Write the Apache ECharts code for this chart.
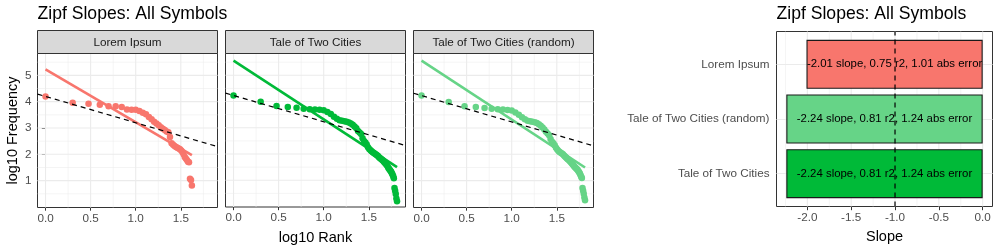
<!DOCTYPE html>
<html>
<head>
<meta charset="utf-8">
<script src="https://cdn.jsdelivr.net/npm/echarts@6/dist/echarts.min.js"></script>
<style>
  html, body { margin: 0; padding: 0; background: #fff; }
  #chart { width: 1000px; height: 250px; }
</style>
</head>
<body>
<div id="chart"></div>
<script>
// facets (left chart)
var facetNames = ['Lorem Ipsum', 'Tale of Two Cities', 'Tale of Two Cities (random)'];
var facetColors = ['#F8766D', '#00BA38', '#66D487'];

// log10 of rank 1..65
var logRank = [0, 0.301, 0.477, 0.602, 0.699, 0.778, 0.845, 0.903, 0.954, 1.000,
  1.041, 1.079, 1.114, 1.146, 1.176, 1.204, 1.230, 1.255, 1.279, 1.301,
  1.322, 1.342, 1.362, 1.380, 1.398, 1.415, 1.431, 1.447, 1.462, 1.477,
  1.491, 1.505, 1.519, 1.531, 1.544, 1.556, 1.568, 1.580, 1.591, 1.602,
  1.613, 1.623, 1.633, 1.643, 1.653, 1.663, 1.672, 1.681, 1.690, 1.699,
  1.708, 1.716, 1.724, 1.732, 1.740, 1.748, 1.756, 1.763, 1.771, 1.778,
  1.785, 1.792, 1.799, 1.806, 1.813];

// log10 frequency per rank
var loremFreq = [4.20, 3.96, 3.92, 3.88, 3.83, 3.83, 3.80, 3.70, 3.69, 3.69,
  3.65, 3.58, 3.52, 3.42, 3.33, 3.24, 3.17, 3.10, 3.03, 2.97,
  2.92, 2.87, 2.84, 2.66, 2.42, 2.36, 2.32, 2.28, 2.25, 2.22,
  2.19, 2.15, 2.08, 2.00, 1.90, 1.84, 1.78, 1.72, 1.70, 1.07,
  1.02, 0.82];

var taleFreq = [4.23, 3.99, 3.83, 3.79, 3.76, 3.72, 3.71, 3.70, 3.69, 3.67,
  3.60, 3.52, 3.42, 3.34, 3.29, 3.27, 3.25, 3.23, 3.20, 3.16,
  3.11, 3.05, 2.98, 2.88, 2.82, 2.76, 2.60, 2.50, 2.44, 2.36,
  2.26, 2.19, 2.14, 2.10, 2.07, 2.04, 2.01, 1.98, 1.95, 1.92,
  1.88, 1.85, 1.82, 1.79, 1.76, 1.72, 1.69, 1.66, 1.62, 1.58,
  1.53, 1.48, 1.44, 1.40, 1.36, 1.32, 1.27, 1.22, 1.15, 1.08,
  0.70, 0.60, 0.48, 0.30, 0.20];

var taleRandomFreq = [4.23, 3.99, 3.83, 3.80, 3.76, 3.73, 3.71, 3.70, 3.68, 3.66,
  3.59, 3.50, 3.41, 3.33, 3.28, 3.26, 3.24, 3.22, 3.19, 3.14,
  3.09, 3.02, 2.94, 2.86, 2.79, 2.72, 2.58, 2.48, 2.42, 2.34,
  2.25, 2.18, 2.13, 2.09, 2.06, 2.03, 2.00, 1.96, 1.92, 1.88,
  1.84, 1.81, 1.78, 1.75, 1.71, 1.67, 1.63, 1.60, 1.56, 1.52,
  1.49, 1.46, 1.43, 1.40, 1.36, 1.32, 1.27, 1.21, 1.15, 1.10,
  0.72, 0.62, 0.50, 0.36, 0.26];

// fitted lines and the slope -1 reference line
var fitIntercept = [5.23, 5.56, 5.56];
var fitSlope = [-2.01, -2.24, -2.24];
var refIntercept = [4.20, 4.23, 4.23];
var zipfSlope = -1;

// ticks / gridlines
var rankTicks = [0, 0.5, 1, 1.5];
var rankMinor = [0.25, 0.75, 1.25, 1.75];
var freqTicks = [1, 2, 3, 4, 5];
var freqMinor = [0.5, 1.5, 2.5, 3.5, 4.5, 5.5];

// right chart
var slopeCats = ['Tale of Two Cities', 'Tale of Two Cities (random)', 'Lorem Ipsum'];
var slopeVals = [-2.24, -2.24, -2.01];
var r2Vals = [0.81, 0.81, 0.75];
var absErrVals = [1.24, 1.24, 1.01];
var slopeColors = ['#00BA38', '#66D487', '#F8766D'];
var slopeTicks = [-2, -1.5, -1, -0.5, 0];
var slopeMinor = [-2.25, -1.75, -1.25, -0.75, -0.25];

var FONT = '"Liberation Sans", Arial, Helvetica, sans-serif';
var rankMin = -0.089, rankMax = 1.907;
var freqMin = -0.02, freqMax = 5.83;
var slopeMin = -2.352, slopeMax = 0.112;

var panelLeft = [37.5, 225.5, 413.5];
var panelTop = 53.5, panelW = 180, panelH = 154;

var chart = echarts.init(document.getElementById('chart'));

// gridlines drawn through the axis scales
function gridlines(idx, xMaj, xMin, yMaj, yMin) {
  var data = [];
  xMin.forEach(function (v) { data.push([0, v, 0.55]); });
  yMin.forEach(function (v) { data.push([1, v, 0.55]); });
  xMaj.forEach(function (v) { data.push([0, v, 1.1]); });
  yMaj.forEach(function (v) { data.push([1, v, 1.1]); });
  return {
    type: 'custom', xAxisIndex: idx, yAxisIndex: idx, silent: true, z: 1,
    data: data,
    renderItem: function (params, api) {
      var cs = params.coordSys;
      var kind = api.value(0), v = api.value(1), w = api.value(2);
      var shape;
      if (kind === 0) {
        var px = api.coord([v, 0])[0];
        shape = { x1: px, y1: cs.y, x2: px, y2: cs.y + cs.height };
      } else {
        var py = api.coord([0, v])[1];
        shape = { x1: cs.x, y1: py, x2: cs.x + cs.width, y2: py };
      }
      return { type: 'line', shape: shape, style: { stroke: '#EBEBEB', lineWidth: w } };
    }
  };
}

var grids = [], xAxes = [], yAxes = [], series = [], graphics = [];
var freqs = [loremFreq, taleFreq, taleRandomFreq];

facetNames.forEach(function (name, i) {
  grids.push({ left: panelLeft[i], top: panelTop, width: panelW, height: panelH,
    show: true, borderColor: '#333', borderWidth: 1, backgroundColor: '#fff' });
  xAxes.push({
    gridIndex: i, type: 'value', min: rankMin, max: rankMax,
    splitLine: { show: false }, axisLine: { show: false },
    axisTick: { show: true, customValues: rankTicks, length: 3.7, lineStyle: { color: '#333' } },
    axisLabel: { customValues: rankTicks, color: '#4D4D4D', fontSize: 11.7, fontFamily: FONT, margin: 5,
      formatter: function (v) { return v.toFixed(1); } },
    name: i === 1 ? 'log10 Rank' : '', nameLocation: 'middle', nameGap: 23,
    nameTextStyle: { color: '#000', fontSize: 14.5, fontFamily: FONT }
  });
  yAxes.push({
    gridIndex: i, type: 'value', min: freqMin, max: freqMax,
    splitLine: { show: false }, axisLine: { show: false },
    axisTick: { show: i === 0, customValues: freqTicks, length: 3.7, lineStyle: { color: '#333' } },
    axisLabel: { show: i === 0, customValues: freqTicks, color: '#4D4D4D', fontSize: 11.7, fontFamily: FONT, margin: 6 },
    name: i === 0 ? 'log10 Frequency' : '', nameLocation: 'middle', nameRotate: 90, nameGap: 17,
    nameTextStyle: { color: '#000', fontSize: 14.5, fontFamily: FONT }
  });
  series.push(gridlines(i, rankTicks, rankMinor, freqTicks, freqMinor));

  var f = freqs[i];
  series.push({
    type: 'scatter', xAxisIndex: i, yAxisIndex: i, z: 3,
    symbolSize: 6.5, itemStyle: { color: facetColors[i], opacity: 1 },
    data: f.map(function (y, k) { return [logRank[k], y]; })
  });
  var xEnd = logRank[f.length - 1];
  series.push({
    type: 'line', xAxisIndex: i, yAxisIndex: i, z: 4, showSymbol: false,
    lineStyle: { color: facetColors[i], width: 2.6 },
    data: [[0, fitIntercept[i]], [xEnd, fitIntercept[i] + fitSlope[i] * xEnd]]
  });
  series.push({
    type: 'line', xAxisIndex: i, yAxisIndex: i, z: 5, showSymbol: false,
    lineStyle: { color: '#000', width: 1.2, type: [5, 4] },
    data: [[rankMin, refIntercept[i] + zipfSlope * rankMin], [rankMax, refIntercept[i] + zipfSlope * rankMax]]
  });

  graphics.push({ type: 'rect', z: 10,
    shape: { x: panelLeft[i], y: 30.5, width: panelW, height: panelTop - 30.5 },
    style: { fill: '#D9D9D9', stroke: '#333', lineWidth: 1 } });
  graphics.push({ type: 'text', z: 11, x: panelLeft[i] + panelW / 2, y: (30.5 + panelTop) / 2 + 0.5,
    style: { text: name, fill: '#1A1A1A', fontSize: 11.7, fontFamily: FONT, align: 'center', verticalAlign: 'middle' } });
});

// right chart: panel grid (3) and bar grid (4)
grids.push({ left: 776.5, top: 31.5, width: 216, height: 175,
  show: true, borderColor: '#333', borderWidth: 1, backgroundColor: '#fff' });
grids.push({ left: 776.5, top: 31.5 + 175 * 0.6 / 3.2, width: 216, height: 175 * 2 / 3.2 });

xAxes.push({
  gridIndex: 3, type: 'value', min: slopeMin, max: slopeMax,
  splitLine: { show: false }, axisLine: { show: false },
  axisTick: { show: true, customValues: slopeTicks, length: 3.7, lineStyle: { color: '#333' } },
  axisLabel: { customValues: slopeTicks, color: '#4D4D4D', fontSize: 11.7, fontFamily: FONT, margin: 5,
    formatter: function (v) { return v.toFixed(1); } },
  name: 'Slope', nameLocation: 'middle', nameGap: 23,
  nameTextStyle: { color: '#000', fontSize: 14.5, fontFamily: FONT }
});
yAxes.push({ gridIndex: 3, type: 'value', min: 0, max: 1, show: false });
xAxes.push({ gridIndex: 4, type: 'value', min: slopeMin, max: slopeMax, show: false });
yAxes.push({
  gridIndex: 4, type: 'category', data: slopeCats, boundaryGap: false,
  axisLine: { show: false },
  axisTick: { show: true, length: 3.7, lineStyle: { color: '#333' } },
  axisLabel: { color: '#4D4D4D', fontSize: 11.7, fontFamily: FONT, margin: 7 },
  splitLine: { show: true, lineStyle: { color: '#EBEBEB', width: 1.1 } }
});

series.push(gridlines(3, slopeTicks, slopeMinor, [], []));
series.push({
  type: 'bar', xAxisIndex: 4, yAxisIndex: 4, z: 3, clip: false,
  barWidth: 49,
  data: slopeVals.map(function (v, i) {
    return { value: v, itemStyle: { color: slopeColors[i] } };
  }),
  itemStyle: { borderColor: '#1A1A1A', borderWidth: 1.1 },
  label: {
    show: true, position: 'inside', color: '#000', fontSize: 11.4, fontFamily: FONT,
    formatter: function (p) {
      var i = p.dataIndex;
      return slopeVals[i].toFixed(2) + ' slope, ' + r2Vals[i].toFixed(2) + ' r2, ' +
        absErrVals[i].toFixed(2) + ' abs error';
    }
  }
});
series.push({
  type: 'line', xAxisIndex: 3, yAxisIndex: 3, z: 6, showSymbol: false,
  lineStyle: { color: '#000', width: 1.2, type: [5, 4] },
  data: [[zipfSlope, 0], [zipfSlope, 1]]
});

var titleStyle = { color: '#000', fontSize: 17.6, fontWeight: 'normal', fontFamily: FONT };
chart.setOption({
  animation: false,
  backgroundColor: '#fff',
  title: [
    { text: 'Zipf Slopes: All Symbols', left: 37.5, top: 5, padding: 0, textStyle: titleStyle },
    { text: 'Zipf Slopes: All Symbols', left: 776.5, top: 5, padding: 0, textStyle: titleStyle }
  ],
  grid: grids,
  xAxis: xAxes,
  yAxis: yAxes,
  series: series,
  graphic: graphics
});
</script>
</body>
</html>
